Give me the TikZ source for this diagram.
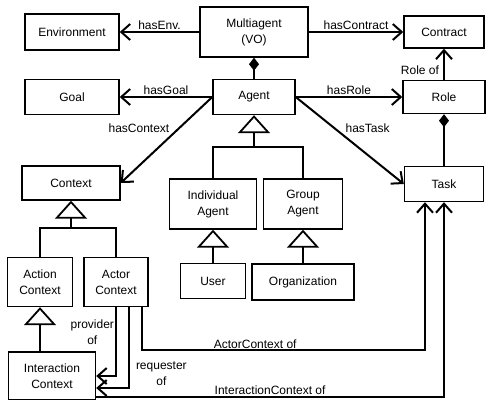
\documentclass[tikz,border=0pt]{standalone}
\usepackage{fontspec}
\setmainfont{Liberation Sans}
\usetikzlibrary{arrows.meta,calc}

\begin{document}
\begin{tikzpicture}[x=1pt,y=-1pt,
                    font=\fontsize{12}{16}\selectfont,
                    box/.style={draw,line width=1.4pt,align=center,inner sep=0pt},
                    assoc/.style={line width=2pt,-{Straight Barb[length=9pt,width=16pt]}},
                    inherit/.style={line width=1.8pt,-{Triangle[open,length=18pt,width=32pt]}},
                    part/.style={line width=1.8pt,{Diamond[length=13pt,width=10pt]}-},
                    lbl/.style={inner sep=1pt,align=center}]
  \useasboundingbox (0,0) rectangle (487,399);
  % top rows
  \node[box,minimum width=94pt,minimum height=36pt] (env) at (72,32) {Environment};
  \node[box,minimum width=108pt,minimum height=50pt] (multi) at (254,32) {Multiagent\\(VO)};
  \node[box,minimum width=80pt,minimum height=32pt] (contract) at (444,32) {Contract};
  \node[box,minimum width=94pt,minimum height=35pt] (goal) at (72,97) {Goal};
  \node[box,minimum width=82pt,minimum height=35pt] (agent) at (254,97) {Agent};
  \node[box,minimum width=82pt,minimum height=33pt] (role) at (444,97) {Role};
  \node[box,minimum width=79pt,minimum height=35pt] (task) at (444,184) {Task};
  % contexts
  \node[box,minimum width=98pt,minimum height=34pt] (context) at (71,183) {Context};
  \node[box,minimum width=65pt,minimum height=49pt] (action) at (40,282) {Action\\Context};
  \node[box,minimum width=64pt,minimum height=49pt] (actor) at (116,282) {Actor\\Context};
  \node[box,minimum width=87pt,minimum height=48pt] (inter) at (52,376) {Interaction\\Context};
  % agents
  \node[box,minimum width=87pt,minimum height=50pt] (indiv) at (213,204) {Individual\\Agent};
  \node[box,minimum width=79pt,minimum height=50pt] (group) at (303,204) {Group\\Agent};
  \node[box,minimum width=65pt,minimum height=35pt] (user) at (213,281) {User};
  \node[box,minimum width=102pt,minimum height=36pt] (org) at (303,282) {Organization};

  % associations
  \draw[assoc] (multi.west) -- node[lbl,above]{hasEnv.} (env.east);
  \draw[assoc] (multi.east) -- node[lbl,above]{hasContract} (contract.west);
  \draw[assoc] (agent.west) -- node[lbl,above]{hasGoal} (goal.east);
  \draw[assoc] (agent.east) -- node[lbl,above]{hasRole} (role.west);
  \draw[assoc] (agent.west) -- node[lbl,left=8pt,pos=0.36]{hasContext} (context.east);
  \draw[assoc] (agent.east) -- node[lbl,right=9pt,pos=0.36]{hasTask} (task.west);
  \draw[assoc] (role.north) -- node[lbl,left=3pt,pos=0.3]{Role of} (contract.south);
  \draw[part] (multi.south) -- (agent.north);
  \draw[part] (role.south) -- (task.north);

  % generalisations
  \coordinate (agentbus) at (254,147);
  \draw[inherit] (indiv.north) |- (agentbus) -- (agent.south);
  \draw[line width=1.8pt] (group.north) |- (agentbus);
  \draw[inherit] (user.north) -- (indiv.south);
  \draw[inherit] (org.north) -- (group.south);
  \coordinate (ctxbus) at (71,228);
  \draw[inherit] (action.north) |- (ctxbus) -- (context.south);
  \draw[line width=1.8pt] (actor.north) |- (ctxbus);
  \draw[inherit] (action.south |- inter.north) -- (action.south);

  % context links
  \draw[assoc] (actor.south) |- node[lbl,left,pos=0.18]{provider\\of} (inter.east);
  \draw[assoc] ($(actor.south)+(13,0)$) |- node[lbl,right=5pt,pos=0.41]{requester\\of}
    ($(inter.east)+(0,12)$);
  \draw[assoc] ($(actor.south)+(26,0)$) -- ++(0,43) -| node[lbl,above,pos=0.2]{ActorContext of}
    ($(task.south)+(-19,0)$);
  \draw[assoc] ($(inter.east)+(0,21)$) -| node[lbl,above,pos=0.25]{InteractionContext of}
    (task.south);
\end{tikzpicture}
\end{document}
